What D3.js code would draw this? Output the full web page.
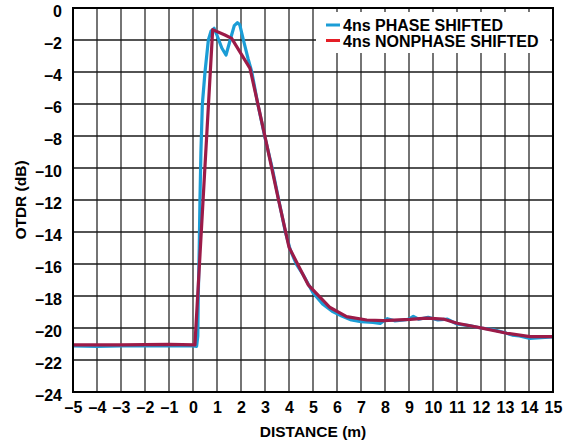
<!DOCTYPE html>
<html><head><meta charset="utf-8">
<script src="https://cdn.jsdelivr.net/npm/d3@7/dist/d3.min.js"></script>
<style>html,body{margin:0;padding:0;background:#fff;}svg{display:block;font-family:"Liberation Sans",Arial,sans-serif;font-weight:bold;}</style>
</head><body>
<script>
const xTicks = d3.range(-5, 16, 1);
const yTicks = d3.range(0, -25, -2);
const seriesNames = ["4ns PHASE SHIFTED", "4ns NONPHASE SHIFTED"];
const phaseX = [-5,-4,-3,-2,-1,0,0.15,0.2,0.22,0.26,0.29,0.33,0.39,0.5,0.64,0.75,0.88,1.0,1.2,1.375,1.55,1.72,1.85,1.95,2.1,2.3,2.45,2.7,3.0,3.3,3.6,3.85,4.05,4.3,4.6,5.0,5.4,5.8,6.2,6.6,7.0,7.5,7.8,8.0,8.1,8.4,8.8,9.0,9.18,9.4,9.8,10.2,10.6,11.0,11.5,12.0,12.5,13.0,13.3,13.6,14.04,14.5,15];
const phaseY = [-21.12,-21.15,-21.12,-21.1,-21.12,-21.12,-21.15,-20.5,-18,-15,-12,-9,-6,-4,-2,-1.45,-1.27,-1.7,-2.5,-2.94,-2.0,-1.1,-0.92,-1.05,-2.0,-3.2,-4.0,-6.0,-8.1,-10,-12.2,-14,-15.1,-16.0,-16.7,-17.8,-18.5,-18.95,-19.25,-19.5,-19.6,-19.65,-19.72,-19.5,-19.42,-19.55,-19.5,-19.45,-19.27,-19.45,-19.33,-19.5,-19.45,-19.75,-19.85,-20.0,-20.1,-20.3,-20.44,-20.5,-20.65,-20.6,-20.55];
const nonPhaseX = [-5,-3,-1,0.08,0.82,1.33,1.61,2.375,3.0,3.55,4.0,4.8,5.71,6.4,7.24,7.93,9.04,9.74,10.43,11.0,12.1,13.07,14.04,14.95,15];
const nonPhaseY = [-21.05,-21.05,-21.02,-21.05,-1.35,-1.69,-1.9,-3.77,-8.04,-11.9,-14.95,-17.3,-18.72,-19.29,-19.5,-19.54,-19.46,-19.38,-19.44,-19.7,-20.02,-20.33,-20.54,-20.54,-20.54];

const W = 566, H = 442;
const m = {left: 73, right: 553, top: 8, bottom: 392};
const svg = d3.select("body").append("svg").attr("width", W).attr("height", H);
const x = d3.scaleLinear().domain([-5, 15]).range([m.left, m.right]);
const y = d3.scaleLinear().domain([-24, 0]).range([m.bottom, m.top]);

// grid
const grid = svg.append("g");
grid.selectAll("line.v").data(xTicks.slice(1, -1)).join("line")
  .attr("x1", d => x(d)).attr("x2", d => x(d)).attr("y1", m.top).attr("y2", m.bottom)
  .attr("stroke", "#3a3a3a").attr("stroke-width", 1.4);
grid.selectAll("line.h").data(yTicks.slice(1, -1)).join("line")
  .attr("x1", m.left).attr("x2", m.right).attr("y1", d => y(d)).attr("y2", d => y(d))
  .attr("stroke", "#1a1a1a").attr("stroke-width", 1.4);

// legend background
svg.append("rect").attr("x", 316).attr("y", 12).attr("width", 234).attr("height", 41).attr("fill", "#fff");

// lines
const line = d3.line().x(d => x(d[0])).y(d => y(d[1]));
const phase = phaseX.map((v, i) => [v, phaseY[i]]);
const nonPhase = nonPhaseX.map((v, i) => [v, nonPhaseY[i]]);
svg.append("path").datum(phase).attr("d", line).attr("fill", "none")
  .attr("stroke", "#1b9dd6").attr("stroke-width", 3.2).attr("stroke-linejoin", "round");
svg.append("path").datum(nonPhase).attr("d", line).attr("fill", "none")
  .attr("stroke", "#9c1b48").attr("stroke-width", 3.2).attr("stroke-linejoin", "round");

// frame
svg.append("rect").attr("x", m.left).attr("y", m.top).attr("width", m.right - m.left).attr("height", m.bottom - m.top)
  .attr("fill", "none").attr("stroke", "#000").attr("stroke-width", 2);

// axes
const fmt = d => (d < 0 ? "\u2013" + Math.abs(d) : String(d));
const yAxis = svg.append("g").attr("transform", `translate(${m.left},0)`)
  .call(d3.axisLeft(y).tickValues(yTicks).tickFormat(fmt).tickSize(0).tickPadding(11));
const xAxis = svg.append("g").attr("transform", `translate(0,${m.bottom})`)
  .call(d3.axisBottom(x).tickValues(xTicks).tickFormat(fmt).tickSize(0).tickPadding(8));
[yAxis, xAxis].forEach(a => {
  a.select(".domain").remove();
  a.selectAll("text").attr("font-family", '"Liberation Sans",Arial,sans-serif')
    .attr("font-weight", "bold").attr("font-size", 16).attr("fill", "#000");
});
yAxis.selectAll("text").attr("dy", "0.56em").attr("y", 0);
xAxis.selectAll("text").attr("dy", "0.8em");

// axis titles
svg.append("text").attr("x", (m.left + m.right) / 2).attr("y", 437).attr("text-anchor", "middle")
  .attr("font-size", 15.5).text("DISTANCE (m)");
svg.append("text").attr("transform", "translate(26,200) rotate(-90)").attr("text-anchor", "middle")
  .attr("font-size", 15.5).text("OTDR (dB)");

// legend
const legColors = ["#1b9dd6", "#e41e26"];
const leg = svg.append("g");
seriesNames.forEach((n, i) => {
  const yy = 25 + i * 15.5;
  leg.append("line").attr("x1", 326).attr("x2", 340).attr("y1", yy).attr("y2", yy)
    .attr("stroke", legColors[i]).attr("stroke-width", 3);
  leg.append("text").attr("x", 343).attr("y", yy + 6).attr("font-size", 16).text(n);
});
</script>
</body></html>
